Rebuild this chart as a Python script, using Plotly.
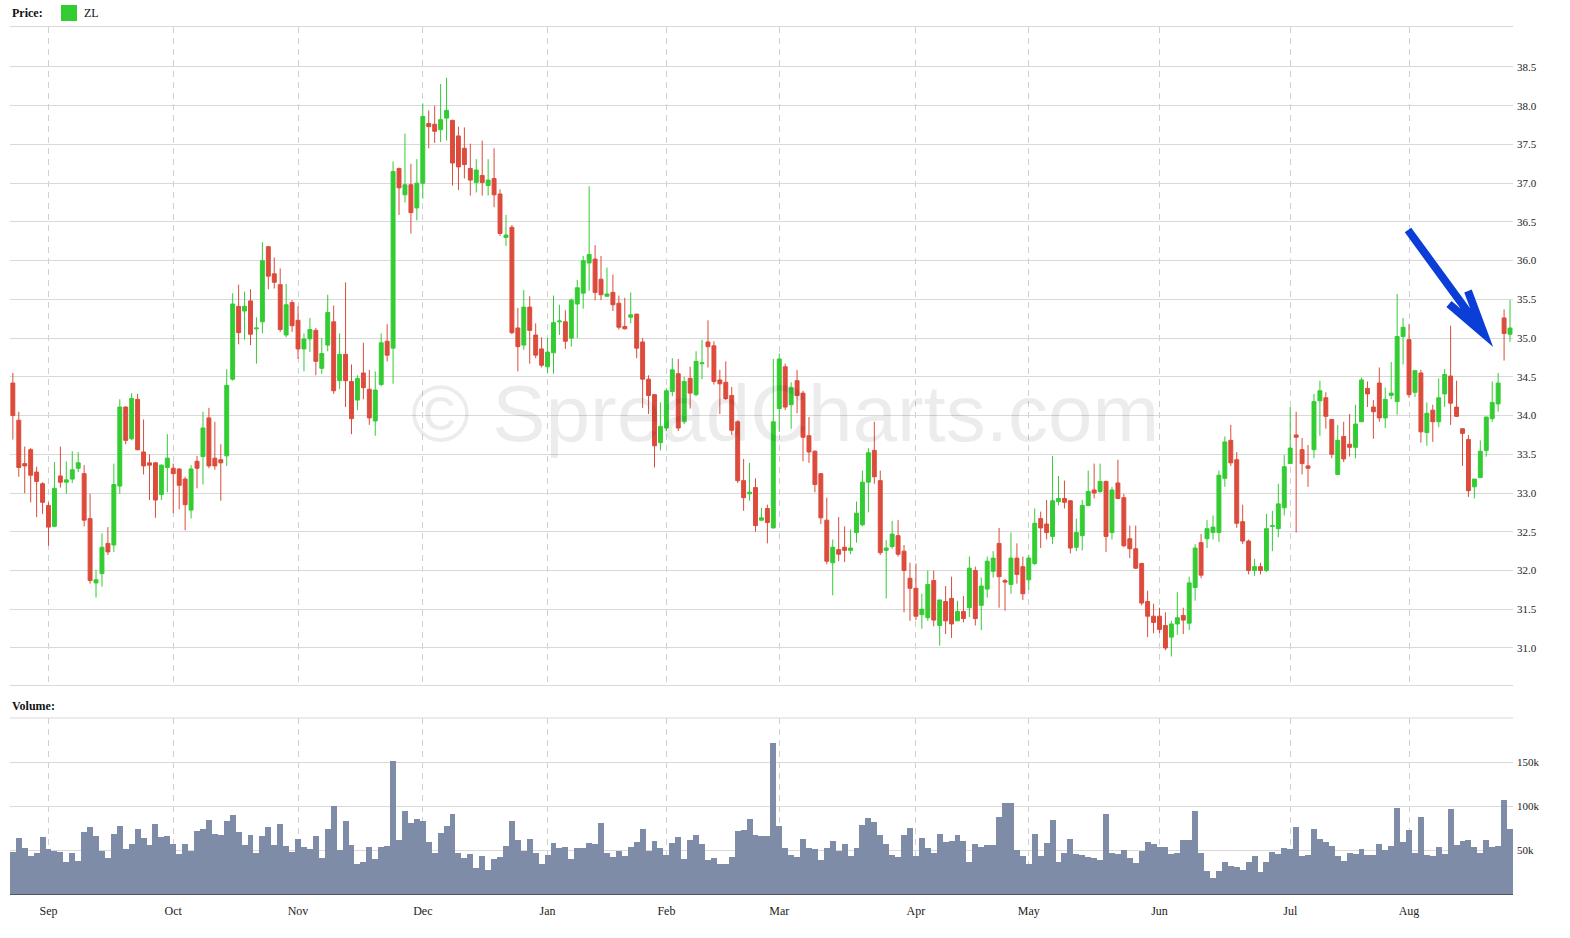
import pandas as pd
import plotly.graph_objects as go

# ---------------- data ----------------
holidays = ['2016-09-05', '2016-11-24', '2016-12-26', '2017-01-02', '2017-01-16',
            '2017-02-20', '2017-04-14', '2017-05-29', '2017-07-04']
_days = pd.bdate_range('2016-08-24', '2017-08-24')
_days = _days[~_days.isin(pd.to_datetime(holidays))]
dates = [d.strftime('%Y-%m-%d') for d in _days]

opens = [34.42,33.94,33.38,33.56,33.27,33.12,32.84,32.57,33.22,33.14,33.18,33.32,33.25,32.67,31.84,31.96,32.35,32.33,33.09,34.11,
         33.70,34.21,33.53,33.39,33.39,32.98,33.33,33.32,33.31,33.18,32.78,33.41,33.47,33.97,33.45,33.43,33.48,34.47,35.41,35.35,
         35.48,35.12,35.21,36.18,35.83,35.69,35.04,35.46,35.23,34.86,34.99,35.10,34.61,34.91,35.21,34.45,34.79,34.44,34.20,34.55,
         34.34,33.93,34.40,34.96,34.87,37.19,36.85,36.98,36.68,37.00,37.77,37.76,37.69,37.84,37.81,37.61,37.45,37.19,37.01,37.10,
         36.97,37.06,36.86,36.30,36.43,35.13,34.91,35.40,35.04,34.86,34.63,34.81,35.21,35.21,35.00,35.44,35.58,35.97,36.02,35.76,
         35.54,35.59,35.45,35.15,35.27,35.31,34.95,34.47,34.27,33.65,33.84,34.31,34.54,33.92,34.48,34.27,34.67,34.95,34.90,34.46,
         34.43,34.26,33.92,33.16,32.99,33.07,32.65,32.80,32.55,34.09,34.63,34.14,34.45,34.29,33.74,33.54,33.25,32.65,32.10,32.27,
         32.30,32.26,32.49,32.59,33.14,33.55,33.16,32.26,32.31,32.45,32.25,31.90,31.77,31.43,31.39,31.87,31.29,31.60,31.64,31.35,
         31.47,31.52,32.00,31.55,31.76,31.99,32.35,31.87,31.82,32.16,32.05,31.88,32.09,32.67,32.60,32.44,32.89,32.93,32.90,32.30,
         32.45,32.84,33.04,33.02,33.15,32.49,33.13,32.94,32.41,32.28,32.09,31.60,31.41,31.41,31.29,31.14,31.31,31.42,31.32,31.78,
         32.36,32.41,32.49,32.49,33.19,33.68,33.43,32.63,32.38,32.00,32.05,32.00,32.57,32.54,32.81,33.38,33.75,33.56,33.35,33.56,
         34.19,34.23,33.95,33.24,33.73,33.63,33.59,33.92,34.35,34.11,34.42,33.97,34.26,34.18,35.02,34.98,34.30,34.55,33.78,34.07,
         33.92,34.28,34.51,34.11,33.83,33.69,33.08,33.20,33.55,33.96,34.15,35.26,35.05]
highs = [34.55,34.05,33.60,33.58,33.34,33.14,32.88,33.40,33.60,33.41,33.54,33.53,33.36,32.99,32.01,32.48,32.56,33.38,34.21,34.12,
         34.29,34.28,33.95,33.50,33.40,33.37,33.76,33.38,33.32,33.21,33.36,33.48,34.05,34.10,33.92,33.63,34.60,35.58,35.69,35.60,
         35.63,35.27,36.24,36.19,36.04,35.90,35.70,35.49,35.41,35.06,35.26,35.13,35.00,35.56,35.42,35.06,35.72,34.66,34.52,34.94,
         34.59,34.57,35.06,35.18,37.28,37.20,37.64,37.25,37.31,38.03,37.94,38.00,38.28,38.36,37.82,37.73,37.72,37.51,37.31,37.55,
         37.31,37.45,36.92,36.59,36.46,35.39,35.62,35.54,35.19,35.01,35.00,35.55,35.43,35.36,35.51,35.75,36.06,36.96,36.20,36.06,
         35.91,35.82,35.55,35.52,35.59,35.31,35.00,34.52,34.28,34.17,34.35,34.74,34.73,34.50,34.63,34.83,34.98,35.23,34.96,34.59,
         34.70,34.37,33.94,33.44,33.39,33.19,32.81,32.85,34.73,34.80,34.67,34.43,34.59,34.32,33.98,33.55,33.26,32.94,32.40,32.69,
         32.57,32.53,32.89,33.29,33.58,33.92,33.29,32.39,32.64,32.65,32.33,32.10,32.09,31.70,32.00,32.00,31.62,31.80,31.92,31.61,
         31.67,32.18,32.05,31.91,32.18,32.25,32.55,31.89,32.49,32.35,32.18,32.20,32.80,32.76,32.91,33.48,33.22,33.16,32.91,32.67,
         32.91,33.29,33.38,33.38,33.16,33.08,33.43,32.99,32.58,32.58,32.10,31.74,31.57,31.52,31.46,31.35,31.72,31.52,31.92,32.34,
         32.47,32.65,32.71,33.29,33.73,33.88,33.53,32.85,32.40,32.15,32.10,32.73,32.77,33.12,33.49,34.11,34.05,33.71,33.62,34.28,
         34.45,34.30,33.95,33.88,33.92,34.02,34.14,34.49,34.44,34.20,34.62,34.36,34.69,35.57,35.26,35.18,34.59,34.59,34.17,34.14,
         34.48,34.60,35.16,34.45,33.84,33.75,33.18,33.68,33.99,34.44,34.55,35.37,35.49]
lows = [33.69,33.21,33.00,32.88,32.69,32.73,32.32,32.56,33.07,32.99,33.13,33.27,32.57,31.83,31.65,31.79,32.20,32.24,32.99,33.63,
        33.68,33.55,33.24,32.91,32.68,32.91,33.01,32.74,32.79,32.52,32.67,33.06,33.11,33.32,33.30,32.90,33.35,34.45,34.92,34.98,
        34.91,34.67,35.06,35.63,35.64,35.08,35.01,35.08,34.73,34.57,34.82,34.52,34.54,34.83,34.28,34.34,34.11,33.76,34.07,34.21,
        33.88,33.74,34.38,34.70,34.41,36.59,36.75,36.35,36.52,36.80,37.45,37.52,37.53,37.55,36.97,36.91,37.06,36.84,36.88,36.84,
        36.84,36.69,36.32,36.19,35.05,34.57,34.85,34.67,34.74,34.62,34.55,34.54,35.04,34.86,34.89,35.00,35.38,35.61,35.49,35.49,
        35.54,35.35,35.11,35.11,35.19,34.74,34.10,34.02,33.33,33.55,33.80,34.25,33.80,33.89,34.09,34.25,34.47,34.62,34.40,34.02,
        34.20,33.75,33.13,32.77,32.90,32.50,32.64,32.35,32.54,33.79,34.07,33.83,34.03,33.41,33.39,33.01,32.60,32.08,31.68,32.12,
        32.11,32.21,32.36,32.57,32.75,33.12,32.20,31.64,32.28,32.18,31.46,31.35,31.36,31.25,31.35,31.28,31.03,31.18,31.13,31.35,
        31.33,31.40,31.29,31.23,31.65,31.91,31.52,31.48,31.70,31.83,31.62,31.75,32.07,32.29,32.40,32.34,32.84,32.80,32.22,32.25,
        32.26,32.83,32.93,33.00,32.24,32.40,32.92,32.30,32.16,32.02,31.55,31.14,31.19,31.19,30.97,30.89,31.17,31.18,31.23,31.61,
        31.90,32.29,32.40,32.37,33.08,33.35,32.55,32.34,31.95,31.93,31.95,31.98,32.25,32.43,32.71,33.38,32.49,33.24,33.08,33.45,
        33.74,33.83,33.45,33.24,33.40,33.47,33.45,33.92,34.11,33.70,33.92,33.84,34.21,34.01,34.66,34.23,34.24,33.65,33.61,33.66,
        33.85,34.11,33.88,33.98,33.35,32.95,32.93,33.20,33.47,33.92,34.05,34.71,34.95]
closes = [34.00,33.33,33.35,33.23,33.15,32.88,32.56,33.06,33.14,33.17,33.30,33.39,32.65,31.87,31.88,32.30,32.24,33.11,34.11,33.68,
          34.22,33.56,33.35,33.36,32.91,33.36,33.45,33.25,33.10,32.85,33.31,33.32,33.84,33.35,33.35,33.39,34.39,35.44,35.07,35.41,
          35.05,35.13,36.00,35.80,35.72,35.11,35.43,35.16,34.86,34.99,35.11,34.70,34.80,35.33,34.32,34.79,34.45,33.96,34.48,34.36,
          33.97,34.33,34.94,34.78,37.15,36.94,36.98,36.62,37.00,37.86,37.73,37.67,37.82,37.94,37.26,37.21,37.24,37.04,37.17,37.01,
          37.04,36.85,36.35,36.33,35.07,34.89,35.40,35.10,34.78,34.65,34.82,35.20,35.22,34.96,35.49,35.65,36.00,36.08,35.59,35.56,
          35.57,35.43,35.14,35.12,35.30,34.87,34.47,34.26,33.61,33.86,34.32,34.59,33.84,34.44,34.29,34.70,34.68,34.89,34.44,34.41,
          34.22,33.81,33.16,32.94,33.01,32.58,32.68,32.62,33.92,34.73,34.11,34.36,34.26,33.72,33.53,33.11,32.68,32.12,32.30,32.21,
          32.26,32.29,32.74,33.14,33.52,33.21,32.23,32.29,32.47,32.21,32.00,31.77,31.41,31.50,31.82,31.36,31.62,31.35,31.31,31.47,
          31.38,32.03,31.38,31.80,32.12,32.16,31.92,31.85,32.16,31.95,31.70,32.16,32.61,32.55,32.49,32.90,32.93,32.88,32.29,32.49,
          32.84,33.02,33.00,33.15,32.44,33.04,32.93,32.32,32.28,32.03,31.58,31.41,31.33,31.24,31.00,31.31,31.39,31.36,31.84,32.29,
          31.94,32.54,32.56,33.23,33.66,33.39,32.61,32.38,32.00,32.05,32.00,32.54,32.58,32.86,33.34,33.58,33.72,33.38,33.32,34.18,
          34.32,33.99,33.50,33.68,33.44,33.59,33.89,34.46,34.28,34.05,33.97,34.21,34.29,35.02,35.14,34.27,34.58,33.79,34.03,33.92,
          34.23,34.53,34.16,33.99,33.77,33.03,33.18,33.54,33.98,34.17,34.42,35.06,35.13]
volume_k = [48.1,64.0,52.7,43.6,47.0,65.2,51.5,49.2,48.1,36.7,47.0,37.9,70.8,76.5,66.3,49.2,41.3,68.6,77.7,51.5,
            57.2,74.2,64.0,56.1,79.9,65.2,66.3,57.2,45.8,57.2,49.2,72.0,74.2,84.5,68.6,67.4,83.3,90.2,70.8,56.1,
            67.4,47.0,66.3,76.5,56.1,79.9,54.9,48.1,62.9,53.8,51.5,66.3,41.3,74.2,100.4,50.4,83.3,56.1,34.5,36.7,
            53.8,40.2,53.8,54.9,151.5,61.7,94.7,81.1,85.6,83.3,59.5,47.0,69.7,77.7,91.3,47.0,41.3,45.8,29.9,43.6,
            27.7,40.2,42.4,54.9,83.3,61.7,49.2,62.9,47.0,34.5,44.7,58.3,52.7,53.8,40.2,52.7,52.7,58.3,57.2,81.1,
            47.0,42.4,49.2,43.6,53.8,59.5,74.2,49.2,60.6,52.7,44.7,58.3,65.2,40.2,61.7,67.4,57.2,39.0,41.3,34.5,
            34.5,42.4,72.0,73.1,85.6,67.4,66.3,66.3,172.0,77.7,52.7,44.7,42.4,62.9,52.7,51.5,39.0,52.7,60.6,49.2,
            57.2,43.6,52.7,78.8,86.7,82.2,67.4,57.2,44.7,42.4,67.4,75.4,43.6,64.0,52.7,47.0,68.6,59.5,60.6,67.4,
            60.6,36.7,57.2,53.8,56.1,56.1,87.9,103.8,103.8,50.4,43.6,34.5,68.6,43.6,58.3,84.5,36.7,47.0,62.9,45.8,
            44.7,42.4,41.3,39.0,91.3,47.0,45.8,50.4,41.3,35.6,49.2,59.5,57.2,53.8,53.8,45.8,47.0,61.7,61.7,94.7,
            47.0,26.5,18.6,26.5,36.7,32.2,31.1,27.7,36.7,43.6,25.4,36.7,48.1,45.8,52.7,51.5,76.5,43.6,44.7,74.2,
            62.9,59.5,54.9,43.6,37.9,47.0,45.8,51.5,44.7,44.7,57.2,50.4,54.9,98.1,59.5,73.1,47.0,87.9,44.7,43.6,
            53.8,45.8,97.0,56.1,60.6,61.7,53.8,47.0,61.7,53.8,54.9,107.2,74.2]

price_ticks = [31.0, 31.5, 32.0, 32.5, 33.0, 33.5, 34.0, 34.5, 35.0, 35.5, 36.0, 36.5, 37.0, 37.5, 38.0, 38.5]
volume_ticks = [50000, 100000, 150000]
volume_tick_labels = ['50k', '100k', '150k']

month_ticks, month_labels = [], []
_seen = set()
for d in _days:
    key = (d.year, d.month)
    if key not in _seen:
        _seen.add(key)
        if key != (2016, 8):
            month_ticks.append(d.strftime('%Y-%m-%d'))
            month_labels.append(d.strftime('%b'))

# ---------------- style ----------------
GREEN = '#33cc33'
RED = '#dc4b3b'
VOL = '#7f8ca8'
GRID = '#d9d9d9'
FONT = 'Liberation Serif'

W, H = 1570, 938
ML, MR, MT, MB = 10, 57, 27, 44
PW, PH = W - ML - MR, H - MT - MB


def paper(x, y):
    """page pixel -> paper coordinates"""
    return (x - ML) / PW, (H - MB - y) / PH


fig = go.Figure()
fig.add_trace(go.Candlestick(
    x=dates, open=opens, high=highs, low=lows, close=closes,
    increasing=dict(line=dict(color=GREEN, width=1), fillcolor=GREEN),
    decreasing=dict(line=dict(color=RED, width=1), fillcolor=RED),
    whiskerwidth=0, name='ZL', xaxis='x', yaxis='y', showlegend=False))
fig.add_trace(go.Bar(
    x=dates, y=[v * 1000 for v in volume_k], marker=dict(color=VOL, line=dict(width=0)),
    xaxis='x2', yaxis='y2', showlegend=False))

price_bottom = (H - MB - 685) / PH
vol_top = (H - MB - 718) / PH

xcommon = dict(type='category', tickmode='array', tickvals=month_ticks, ticktext=month_labels,
               showgrid=True, gridcolor='#d0d0d0', griddash='6px,5px', gridwidth=1,
               range=[-0.48, 252.5], zeroline=False,
               tickfont=dict(family=FONT, size=12, color='#222'))

fig.update_layout(
    width=W, height=H, margin=dict(l=ML, r=MR, t=MT, b=MB),
    paper_bgcolor='white', plot_bgcolor='white',
    boxgap=0.06, bargap=0,
    xaxis=dict(**xcommon, anchor='y', showticklabels=False, showline=True, mirror=True,
               linecolor=GRID, linewidth=1, rangeslider=dict(visible=False)),
    xaxis2=dict(**xcommon, anchor='y2', matches='x', showticklabels=True, showline=True,
                linecolor='#4e566a', linewidth=1, ticks='outside', ticklen=6, tickcolor='white'),
    yaxis=dict(domain=[price_bottom, 1], side='right', range=[30.522, 39.016],
               tickmode='array', tickvals=price_ticks, tickformat='.1f', ticklabelstandoff=3,
               gridcolor=GRID, zeroline=False, tickfont=dict(family=FONT, size=11, color='#222')),
    yaxis2=dict(domain=[0, vol_top], side='right', range=[0, 200000],
                tickmode='array', tickvals=volume_ticks, ticktext=volume_tick_labels, ticklabelstandoff=3,
                gridcolor=GRID, zeroline=False, tickfont=dict(family=FONT, size=11, color='#222')),
    showlegend=False,
)

# panel top line of volume area
x0, y0 = paper(ML, 718)
x1, _ = paper(ML + PW, 718)
fig.add_shape(type='line', xref='paper', yref='paper', x0=x0, x1=x1, y0=y0, y1=y0,
              line=dict(color=GRID, width=1))

# legend box
sx0, sy0 = paper(61, 5)
sx1, sy1 = paper(77, 21)
fig.add_shape(type='rect', xref='paper', yref='paper', x0=sx0, x1=sx1, y0=sy1, y1=sy0,
              fillcolor=GREEN, line=dict(width=0))

ax, ay = paper(10, 13)
fig.add_annotation(xref='paper', yref='paper', x=ax, y=ay, xanchor='left', yanchor='middle',
                   text='<b>Price:</b>', showarrow=False, font=dict(family=FONT, size=12, color='#111'))
ax, ay = paper(82, 13)
fig.add_annotation(xref='paper', yref='paper', x=ax, y=ay, xanchor='left', yanchor='middle',
                   text='ZL', showarrow=False, font=dict(family=FONT, size=12, color='#111'))
ax, ay = paper(10, 706)
fig.add_annotation(xref='paper', yref='paper', x=ax, y=ay, xanchor='left', yanchor='middle',
                   text='<b>Volume:</b>', showarrow=False, font=dict(family=FONT, size=12, color='#111'))

# watermark
wx, wy = paper(785, 413)
fig.add_annotation(xref='paper', yref='paper', x=wx, y=wy, xanchor='center', yanchor='middle',
                   text='© SpreadCharts.com', showarrow=False,
                   font=dict(family='Liberation Sans', size=80, color='rgba(0,0,0,0.075)'))

# blue arrow
pts = {
    'a': paper(1408, 230), 'tip': paper(1484, 334),
    'l': paper(1449, 304), 'r': paper(1468, 291),
}
path = (f"M {pts['a'][0]},{pts['a'][1]} L {pts['tip'][0]},{pts['tip'][1]} "
        f"M {pts['l'][0]},{pts['l'][1]} L {pts['tip'][0]},{pts['tip'][1]} L {pts['r'][0]},{pts['r'][1]}")
fig.add_shape(type='path', xref='paper', yref='paper', path=path,
              line=dict(color='#0a3ed6', width=8))

fig.write_html('out.html', config={'displayModeBar': False},
               post_script="document.body.style.margin='0';document.body.style.overflow='hidden';")
